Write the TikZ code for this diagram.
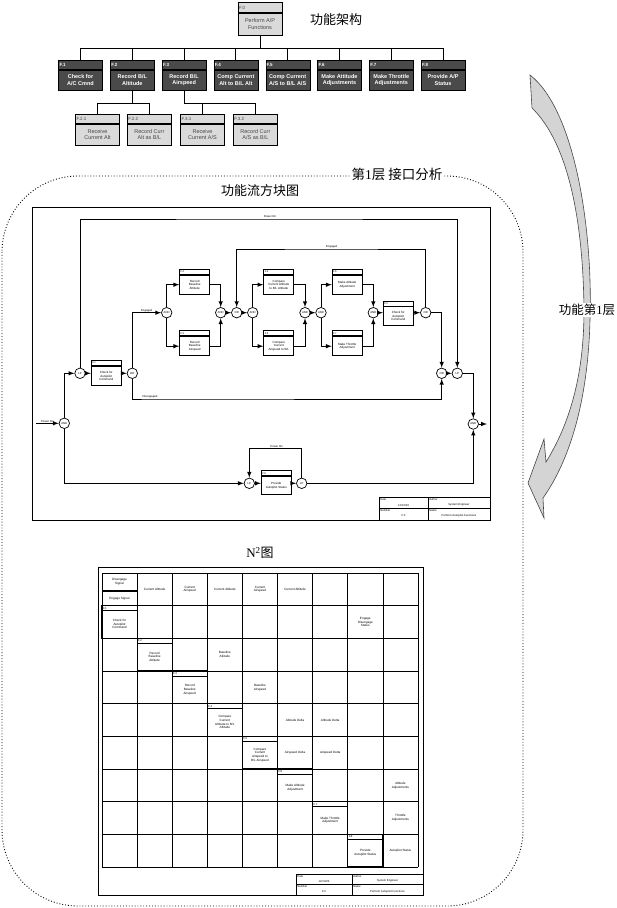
\documentclass[tikz,border=0pt]{standalone}
\usepackage{fontspec}
\setmainfont{Liberation Serif}
\setsansfont{Liberation Sans}
\newfontfamily\cjk{Noto Sans CJK SC}
\usepackage{tikz}
\usetikzlibrary{arrows, positioning}
\definecolor{boxdark}{RGB}{74, 74, 74}
\definecolor{boxlight}{RGB}{218, 218, 218}
\definecolor{arrowgray}{RGB}{212, 212, 212}

\begin{document}
\begin{tikzpicture}[x=1pt, y=-1pt,
    lvlone/.style={rectangle, draw=black, fill=boxdark, text=white,
                   font=\sffamily\bfseries\fontsize{5.5}{6.3}\selectfont,
                   minimum width=44, minimum height=20, inner sep=0.5, align=center},
    lvlhead/.style={rectangle, draw=black, fill=boxdark, text=white,
                    font=\sffamily\bfseries\fontsize{4.5}{5}\selectfont,
                    minimum height=9, text width=42, inner xsep=1, inner ysep=0, align=left},
    lvltwo/.style={rectangle, draw=black, fill=boxlight, text=gray!55!black,
                   font=\sffamily\fontsize{5.5}{6.3}\selectfont,
                   minimum width=44, minimum height=21, inner sep=0.5, align=center},
    lvltwohead/.style={rectangle, draw=black, fill=boxlight, text=gray!55!black,
                       font=\sffamily\fontsize{4.5}{5}\selectfont,
                       minimum height=9, text width=42, inner xsep=1, inner ysep=0, align=left},
    tree/.style={line width=0.9},
    cntitle/.style={font=\cjk\fontsize{13}{15}\selectfont, inner sep=1},
    blk/.style={rectangle, draw, line width=0.9, minimum width=30, minimum height=19,
                inner sep=0.3, align=center, font=\sffamily\fontsize{3}{3.5}\selectfont},
    blkhead/.style={rectangle, draw, line width=0.9, minimum height=5, text width=28,
                    inner xsep=1, inner ysep=0, align=left,
                    font=\sffamily\fontsize{2.6}{2.8}\selectfont},
    gate/.style={circle, draw, line width=0.7, minimum size=10.5, inner sep=0,
                 font=\sffamily\fontsize{2.8}{3}\selectfont},
    flw/.style={->, >=latex, line width=1},
    lbl/.style={font=\sffamily\fontsize{2.8}{3.2}\selectfont, inner sep=0.6},
    tbtext/.style={font=\sffamily\fontsize{2.8}{3.2}\selectfont, inner sep=0.6},
    grid/.style={line width=0.7},
    fcell/.style={line width=1.2},
    ncell/.style={font=\sffamily\fontsize{3.1}{3.7}\selectfont, align=center, inner sep=0.3},
    nhead/.style={font=\sffamily\fontsize{2.8}{3}\selectfont, inner sep=0.3},
    region/.style={dotted, line width=0.9, rounded corners=76}
]
    \useasboundingbox (0,0) rectangle (617,908);

    % Function hierarchy
    \node[lvltwo, minimum height=22] (fn0) at (260,24) {Perform A/P\\Functions};
    \node[lvltwohead, minimum height=10, above=0pt of fn0] (hd0) {F.0};
    \node[cntitle] (archtitle) at (336,20) {功能架构};

    \node[lvlone] (fn1) at (80.5,80) {Check for\\A/C Cmnd};
    \node[lvlone, right=7.4pt of fn1] (fn2) {Record B/L\\Altitude};
    \node[lvlone, right=7.4pt of fn2] (fn3) {Record B/L\\Airspeed};
    \node[lvlone, right=7.4pt of fn3] (fn4) {Comp Current\\Alt to B/L Alt};
    \node[lvlone, right=7.4pt of fn4] (fn5) {Comp Current\\A/S to B/L A/S};
    \node[lvlone, right=7.4pt of fn5] (fn6) {Make Attitude\\Adjustments};
    \node[lvlone, right=7.4pt of fn6] (fn7) {Make Throttle\\Adjustments};
    \node[lvlone, right=7.4pt of fn7] (fn8) {Provide A/P\\Status};
    \foreach \i in {1,...,8}
        \node[lvlhead, above=0pt of fn\i] (hd\i) {F.\i};

    \node[lvltwo] (fn21) at (97.5,134.5) {Receive\\Current Alt};
    \node[lvltwo, right=7.5pt of fn21] (fn22) {Record Curr\\Alt as B/L};
    \node[lvltwo] (fn31) at (202.5,134.5) {Receive\\Current A/S};
    \node[lvltwo, right=8.5pt of fn31] (fn32) {Record Curr\\A/S as B/L};
    \foreach \i/\t in {21/F.2.1, 22/F.2.2, 31/F.3.1, 32/F.3.2}
        \node[lvltwohead, above=0pt of fn\i] (hd\i) {\t};

    \draw[tree] (fn0.south) -- ++(0,13) coordinate (bus);
    \draw[tree] (bus -| hd1.north) -- (bus -| hd8.north);
    \foreach \i in {1,...,8}
        \draw[tree] (bus -| hd\i.north) -- (hd\i.north);
    \draw[tree] (fn2.south) -- ++(0,13) coordinate (sub2);
    \draw[tree] (hd21.north) |- (sub2) -| (hd22.north);
    \draw[tree] (fn3.south) -- ++(0,13) coordinate (sub3) -| (hd32.north);
    \draw[tree] (sub3 -| hd31.north) -- (hd31.north);

    % Level arrow
    \draw[fill=arrowgray, draw=gray!55!black, line width=0.6]
        (530,75) .. controls (575,110) and (593,230) .. (590,320)
        .. controls (588,400) and (570,460) .. (543,498)
        -- (544,518) -- (528,483) -- (544,439) -- (546,462)
        .. controls (572,420) and (584,370) .. (584,310)
        .. controls (583,210) and (565,140) .. (532,108) -- cycle;
    \node[cntitle, font=\cjk\fontsize{12.5}{14}\selectfont, fill=white] (leveltitle) at (587,310)
        {功能第{\rmfamily 1}层};

    % Layer 1 region
    \draw[region] (2,176) rectangle (523,906);
    \node[cntitle, font=\cjk\fontsize{13.5}{15}\selectfont, fill=white, inner xsep=1.5] (layertitle)
        at (397,174) {第{\rmfamily 1}层 接口分析};
    \node[cntitle] (flowtitle) at (260,191) {功能流方块图};

    % Functional flow block diagram
    \draw[line width=1] (32.7,207.3) rectangle (490,520);

    \node[gate] (gin) at (64.3,423.3) {AND};
    \node[gate] (glp) at (80,373.3) {LP};
    \node[blk] (b1) at (106.3,376) {Check for\\Autopilot\\Command};
    \node[gate] (gor1) at (132.3,373.3) {OR};
    \node[gate] (ga1) at (166.7,312.7) {AND};
    \node[blk] (b2) at (194.7,284.7) {Record\\Baseline\\Altitude};
    \node[blk] (b3) at (194.7,346.2) {Record\\Baseline\\Airspeed};
    \node[gate] (ga2) at (220.7,312.7) {AND};
    \node[gate] (gor2) at (236.7,312.7) {OR};
    \node[gate] (ga3) at (252.7,312.7) {AND};
    \node[blk] (b4) at (278.8,284.7) {Compare\\Current Altitude\\to B/L Altitude};
    \node[blk] (b5) at (278.8,346.2) {Compare\\Current\\Airspeed to B/L};
    \node[gate] (ga4) at (305,312.7) {AND};
    \node[gate] (ga5) at (321,312.7) {AND};
    \node[blk] (b6) at (347.2,284.7) {Make Altitude\\Adjustment};
    \node[blk] (b7) at (347.2,346.2) {Make Throttle\\Adjustment};
    \node[gate] (ga6) at (373.3,312.7) {AND};
    \node[blk, minimum height=18.3] (b8) at (398.3,316) {Check for\\Autopilot\\Command};
    \node[gate] (gor3) at (425.7,312.7) {OR};
    \node[gate] (gor4) at (441.7,373.3) {OR};
    \node[gate] (glp2) at (457.3,373.3) {LP};
    \node[gate] (gout) at (473.3,424) {AND};
    \node[gate] (gb1) at (249.3,483.3) {LP};
    \node[blk, minimum height=17.5] (b9) at (276.3,485.5) {Provide\\Autopilot Status};
    \node[gate] (gb2) at (301.7,483.3) {LP};
    \foreach \i/\t in {1/F.1, 2/F.2, 3/F.3, 4/F.4, 5/F.5, 6/F.6, 7/F.7, 8/F.1, 9/F.8}
        \node[blkhead, above=0pt of b\i] (bh\i) {\t};

    \coordinate (pin) at (36,423.3);
    \coordinate (pout) at (487,424);
    \coordinate (toploop) at (270,219);
    \coordinate (disc) at (150,399);
    \coordinate (engl) at (331.7,249);
    \coordinate (pwl) at (276.7,448.3);

    \draw[flw] (pin) -- (gin) node[lbl, midway, above] {Power On};
    \draw[flw] (gin) |- (glp);
    \draw[flw] (glp) |- (toploop) node[lbl, above] {Power On} -| (glp2);
    \draw[flw] (glp) -- (glp -| b1.west);
    \draw[flw] (b1.east |- gor1) -- (gor1);
    \draw[flw] (gor1) |- (ga1) node[lbl, pos=0.75, above] {Engaged};
    \draw[flw] (gor1) |- (disc) node[lbl, above] {Disengaged} -| (gor4);
    \draw[flw] (ga1) |- (b2.west);
    \draw[flw] (ga1) |- (b3.west);
    \draw[flw] (b2.east) -| (ga2);
    \draw[flw] (b3.east) -| (ga2);
    \draw[flw] (ga2) -- (gor2);
    \draw[flw] (gor2) -- (ga3);
    \draw[flw] (ga3) |- (b4.west);
    \draw[flw] (ga3) |- (b5.west);
    \draw[flw] (b4.east) -| (ga4);
    \draw[flw] (b5.east) -| (ga4);
    \draw[flw] (ga4) -- (ga5);
    \draw[flw] (ga5) |- (b6.west);
    \draw[flw] (ga5) |- (b7.west);
    \draw[flw] (b6.east) -| (ga6);
    \draw[flw] (b7.east) -| (ga6);
    \draw[flw] (ga6) -- (ga6 -| b8.west);
    \draw[flw] (b8.east |- gor3) -- (gor3);
    \draw[flw] (gor3) |- (engl) node[lbl, above] {Engaged} -| (gor2);
    \draw[flw] (gor3) -| (gor4);
    \draw[flw] (gor4) -- (glp2);
    \draw[flw] (glp2) -| (gout);
    \draw[flw] (gout) -- (pout);
    \draw[flw] (gin) |- (gb1);
    \draw[flw] (gb1) -- (gb1 -| b9.west);
    \draw[flw] (b9.east |- gb2) -- (gb2);
    \draw[flw] (gb2) |- (pwl) node[lbl, above] {Power On} -| (gb1);
    \draw[flw] (gb2) -| (gout);

    % Title block
    \draw[line width=0.8] (379,497.7) rectangle (490,520);
    \draw[line width=0.8] (428,497.7) -- (428,520);
    \draw[line width=0.8] (379,508.8) -- (490,508.8);
    \node[tbtext, anchor=north west] (fdatel) at (379.5,498) {Date};
    \node[tbtext] (fdate) at (403.5,505) {12/10/03};
    \node[tbtext, anchor=north west] (fnuml) at (379.5,509) {Number};
    \node[tbtext] (fnum) at (403.5,516) {F.0};
    \node[tbtext, anchor=north west] (fauthl) at (428.5,498) {Author};
    \node[tbtext] (fauth) at (459,505) {System Engineer};
    \node[tbtext, anchor=north west] (fnamel) at (428.5,509) {Name};
    \node[tbtext] (fname) at (459,516) {Perform Autopilot Functions};

    % N2 chart
    \node[cntitle] (ntitle) at (260,553) {{\rmfamily N\textsuperscript{2}}图};
    \draw[line width=0.9] (98,567) rectangle (423,895);
    \foreach \i in {0,...,9} {
        \draw[grid] ({102+35.11*\i},573) -- ({102+35.11*\i},867);
        \draw[grid] (102,{573+32.67*\i}) -- (418,{573+32.67*\i});
    }
    \draw[fcell] (102,591) -- ++(35.11,0);
    \node[ncell] (nsig1) at (119.5,582) {Disengage\\Signal};
    \node[ncell] (nsig2) at (119.5,598.5) {Engage Signal};
    \foreach \r/\c/\t in {0/1/{Current Altitude}, 0/2/{Current\\Airspeed},
                          0/3/{Current Altitude}, 0/4/{Current\\Airspeed},
                          0/5/{Current Altitude}, 1/7/{Engage\\Disengage\\Status},
                          2/3/{Baseline\\Altitude}, 3/4/{Baseline\\Airspeed},
                          4/5/{Altitude Delta}, 4/6/{Altitude Delta},
                          5/5/{Airspeed Delta}, 5/6/{Airspeed Delta},
                          6/8/{Altitude\\Adjustments}, 7/8/{Throttle\\Adjustments},
                          8/8/{Autopilot Status}}
        \node[ncell] (n\r\c) at ({102+35.11*(\c+0.5)},{573+32.67*(\r+0.5)}) {\t};
    \foreach \r/\t in {1/{Check for\\Autopilot\\Command}, 2/{Record\\Baseline\\Altitude},
                       3/{Record\\Baseline\\Airspeed}, 4/{Compare\\Current\\Altitude to B/L\\Altitude},
                       5/{Compare\\Current\\Airspeed to\\B/L Airspeed}, 6/{Make Altitude\\Adjustment},
                       7/{Make Throttle\\Adjustment}, 8/{Provide\\Autopilot Status}} {
        \draw[fcell] ({102+35.11*(\r-1)},{573+32.67*\r}) rectangle ++(35.11,32.67);
        \draw[grid] ({102+35.11*(\r-1)},{573+32.67*\r+5}) -- ++(35.11,0);
        \node[nhead, anchor=west] (nh\r) at ({102.5+35.11*(\r-1)},{575.5+32.67*\r}) {F.\r};
        \node[ncell] (nf\r) at ({102+35.11*(\r-0.5)},{591.5+32.67*\r}) {\t};
    }

    % N2 title block
    \draw[line width=0.8] (296,874) rectangle (423,895);
    \draw[line width=0.8] (352,874) -- (352,895);
    \draw[line width=0.8] (296,884.5) -- (423,884.5);
    \node[tbtext, anchor=north west] (ndatel) at (296.5,874.3) {Date};
    \node[tbtext] (ndate) at (324,881) {12/10/03};
    \node[tbtext, anchor=north west] (nnuml) at (296.5,884.8) {Number};
    \node[tbtext] (nnum) at (324,891.5) {F.0};
    \node[tbtext, anchor=north west] (nauthl) at (352.5,874.3) {Author};
    \node[tbtext] (nauth) at (387.5,881) {System Engineer};
    \node[tbtext, anchor=north west] (nnamel) at (352.5,884.8) {Name};
    \node[tbtext] (nname) at (387.5,891.5) {Perform Autopilot Functions};
\end{tikzpicture}
\end{document}
